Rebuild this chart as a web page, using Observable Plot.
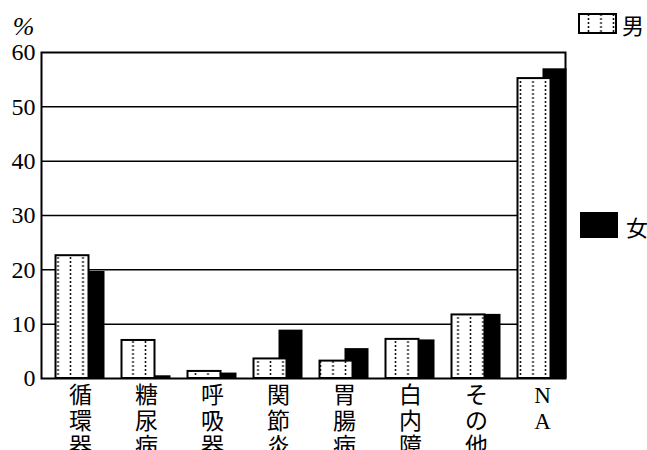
<!DOCTYPE html>
<html><head><meta charset="utf-8">
<script src="https://cdn.jsdelivr.net/npm/d3@7"></script>
<script src="https://cdn.jsdelivr.net/npm/@observablehq/plot@0.6"></script>
<style>
body{margin:0;background:#fff;}
#wrap{position:relative;width:647px;height:450px;overflow:hidden;background:#fff;}
.lg{position:absolute;font-family:"Noto Sans CJK JP";font-size:22px;line-height:1;color:#000;}
</style></head><body><div id="wrap"></div>
<script>
const categories = ["循環器","糖尿病","呼吸器","関節炎","胃腸病","白内障","その他","NA"];
const male = [22.6, 7.0, 1.3, 3.6, 3.2, 7.2, 11.7, 55.2];
const female = [19.7, 0.5, 1.0, 8.9, 5.5, 7.1, 11.8, 57.0];
const yTicks = [0, 10, 20, 30, 40, 50, 60];
const gridValues = [10, 20, 30, 40, 50];
const seriesNames = ["男", "女"];
const unitLabel = "%";

const maleRows = categories.map((c, i) => ({cat: c, v: male[i]}));
const femaleRows = categories.map((c, i) => ({cat: c, v: female[i]}));

function makePattern(sel, id, x) {
  const p = sel.append("pattern").attr("id", id).attr("patternUnits", "userSpaceOnUse")
    .attr("x", x).attr("y", 0).attr("width", 12.5).attr("height", 4);
  p.append("rect").attr("width", 12.5).attr("height", 4).attr("fill", "white");
  p.append("circle").attr("cx", 6.25).attr("cy", 2).attr("r", 0.95).attr("fill", "black");
}

const defs = () => {
  const d = d3.create("svg:defs");
  makePattern(d, "dots", 1.75);
  return d.node();
};

const chart = Plot.plot({
  width: 647, height: 450,
  marginLeft: 41, marginRight: 82, marginTop: 52, marginBottom: 72,
  x: {domain: categories, range: [46.5, 574.5], padding: 0, axis: null},
  y: {domain: [0, 60], axis: null},
  style: {background: "white", color: "black", overflow: "visible"},
  marks: [
    defs,
    Plot.ruleY(gridValues, {stroke: "black", strokeWidth: 1.5}),
    Plot.barY(femaleRows, {x: "cat", y: "v", fill: "black", insetLeft: 33.5, insetRight: 8.5}),
    Plot.barY(maleRows, {x: "cat", y: "v", fill: "url(#dots)", stroke: "black", strokeWidth: 2, insetLeft: 8.5, insetRight: 24.5}),
    Plot.frame({stroke: "black", strokeWidth: 2}),
    Plot.axisY({ticks: yTicks, tickSize: 0, tickPadding: 6, fontSize: 24, fontFamily: "Liberation Serif", tickFormat: d => String(d), label: null}),
    Plot.text(categories, {x: d => d, frameAnchor: "bottom", lineAnchor: "top", dy: 6, text: d => [...d].join("\n"), fontSize: 23, lineHeight: 1.12, fontFamily: "Liberation Serif, 'Noto Sans CJK JP'"}),
    Plot.text([unitLabel], {frameAnchor: "top-left", textAnchor: "middle", lineAnchor: "bottom", dx: -18, dy: -18, text: d => d, fontSize: 26, fontStyle: "italic", fontFamily: "Liberation Serif"})
  ]
});

d3.select(chart).selectAll('g[aria-label="y-axis tick label"] text')
  .style("font-family", "'Liberation Serif', serif").style("font-size", "24px");

const wrap = document.getElementById("wrap");
wrap.appendChild(chart);

// legend
const lgMale = document.createElement("div");
lgMale.className = "lg";
lgMale.style.left = "578px"; lgMale.style.top = "13px";
lgMale.innerHTML = `<svg width="40" height="22" style="vertical-align:top"><defs></defs><rect x="1" y="1" width="37" height="19" fill="url(#ldots)" stroke="black" stroke-width="2"/></svg><span style="position:absolute;left:44px;top:0px">${seriesNames[0]}</span>`;
wrap.appendChild(lgMale);
makePattern(d3.select(lgMale).select("defs"), "ldots", 4.25);

const lgFemale = document.createElement("div");
lgFemale.className = "lg";
lgFemale.style.left = "580px"; lgFemale.style.top = "212px";
lgFemale.innerHTML = `<svg width="39" height="27" style="vertical-align:top"><rect x="0" y="0" width="38" height="26" fill="black"/></svg><span style="position:absolute;left:46px;top:3px">${seriesNames[1]}</span>`;
wrap.appendChild(lgFemale);
</script>
</body></html>
